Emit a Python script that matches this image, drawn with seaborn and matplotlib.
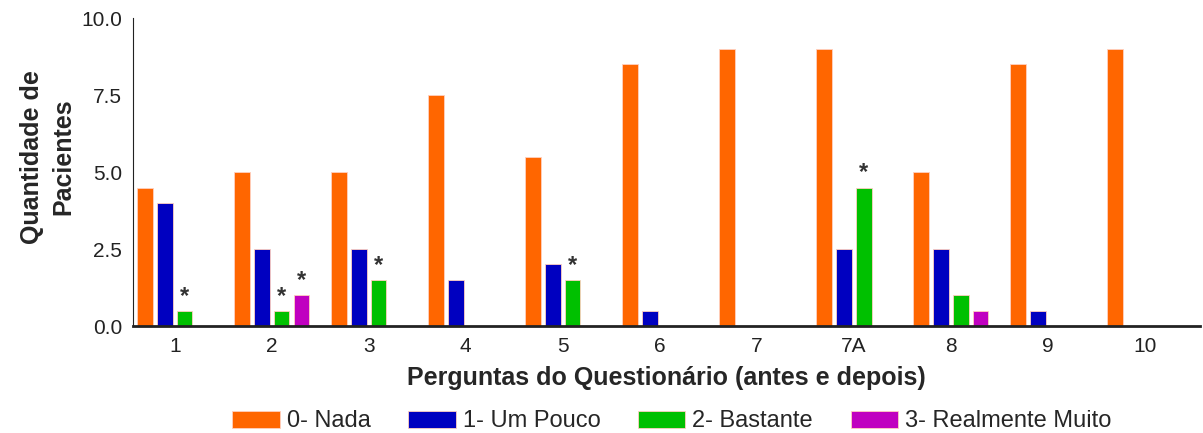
import pandas as pd
import matplotlib.pyplot as plt
import seaborn as sns

# Dados
perguntas = ['1', '2', '3', '4', '5', '6', '7', '7A', '8', '9', '10']
nada = [4.5, 5, 5, 7.5, 5.5, 8.5, 9, 9, 5, 8.5, 9]
um_pouco = [4, 2.5, 2.5, 1.5, 2, 0.5, 0, 2.5, 2.5, 0.5, 0]
bastante = [0.5, 0.5, 1.5, 0, 1.5, 0, 0, 4.5, 1, 0, 0]
realmente_muito = [0, 1, 0, 0, 0, 0, 0, 0, 0.5, 0, 0]
series = ['0- Nada', '1- Um Pouco', '2- Bastante', '3- Realmente Muito']
cores = ['#FF6600', '#0000C0', '#00C000', '#C000C0']

# asteriscos (série, pergunta)
asteriscos = [('2- Bastante', '1'), ('2- Bastante', '2'), ('3- Realmente Muito', '2'),
              ('2- Bastante', '3'), ('2- Bastante', '5'), ('2- Bastante', '7A')]

df = pd.DataFrame({'Pergunta': perguntas, series[0]: nada, series[1]: um_pouco,
                   series[2]: bastante, series[3]: realmente_muito})
df = df.melt(id_vars='Pergunta', var_name='Resposta', value_name='Quantidade')

sns.set_style('white')
plt.rcParams['font.family'] = ['Liberation Sans', 'DejaVu Sans']

fig = plt.figure(figsize=(12.03, 4.33), dpi=100)
ax = fig.add_axes([0.1106, 0.247, 0.887, 0.711])

sns.barplot(data=df, x='Pergunta', y='Quantidade', hue='Resposta', order=perguntas,
            hue_order=series, palette=cores, width=0.82, gap=0.22,
            edgecolor='#FFD0C0', linewidth=0.6, saturation=1, ax=ax, legend=True)

for serie, cont in zip(series, ax.containers):
    for pat, perg in zip(cont.patches, perguntas):
        if (serie, perg) in asteriscos:
            ax.text(pat.get_x() + pat.get_width() / 2, pat.get_height() + 0.1, '*',
                    ha='center', va='bottom', fontsize=17, fontweight='bold', color='#333333')

ax.set_ylim(0, 10)
ax.set_xlim(-0.43, 10.57)
ax.set_yticks([0, 2.5, 5, 7.5, 10])
ax.set_yticklabels(['0.0', '2.5', '5.0', '7.5', '10.0'])
ax.tick_params(axis='y', length=5, width=1, labelsize=15, colors='#222222', pad=3)
ax.tick_params(axis='x', length=0, labelsize=15, colors='#222222', pad=8)
sns.despine(ax=ax, top=True, right=True)
ax.spines['left'].set_color('#222222')
ax.spines['bottom'].set_color('#222222')
ax.spines['bottom'].set_linewidth(2)

ax.set_ylabel('Quantidade de\nPacientes', fontsize=18, fontweight='bold', linespacing=1.4)
ax.yaxis.set_label_coords(-0.054, 0.55)
ax.set_xlabel('Perguntas do Questionário (antes e depois)', fontsize=18, fontweight='bold', labelpad=7)

ax.legend(loc='center', bbox_to_anchor=(0.505, -0.31), ncol=4, frameon=False,
          fontsize=17, handlelength=2.0, handleheight=0.75, columnspacing=1.6, handletextpad=0.3)

plt.savefig('out.png', dpi=100)
